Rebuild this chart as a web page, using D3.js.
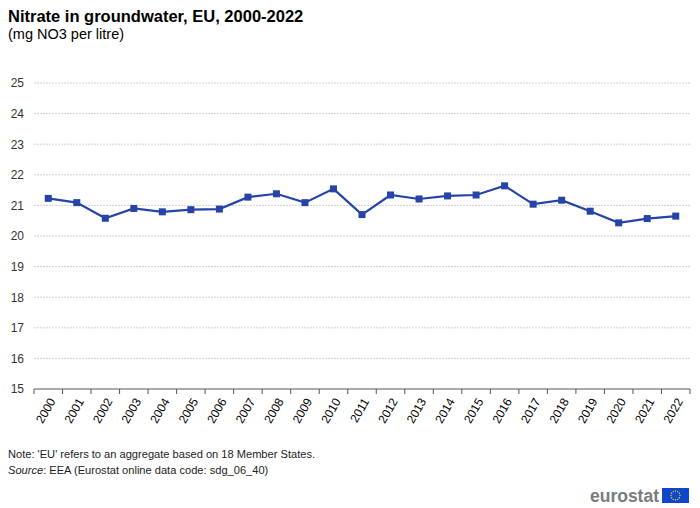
<!DOCTYPE html>
<html>
<head>
<meta charset="utf-8">
<script src="https://cdn.jsdelivr.net/npm/d3@7"></script>
<style>
  body { margin: 0; background: #fff; }
  svg { display: block; font-family: Arial, "Liberation Sans", sans-serif; }
</style>
</head>
<body>
<svg id="chart" width="700" height="508"></svg>
<script>
// Data
const years = ["2000", "2001", "2002", "2003", "2004", "2005", "2006", "2007", "2008", "2009", "2010", "2011",
    "2012", "2013", "2014", "2015", "2016", "2017", "2018", "2019", "2020", "2021", "2022"];
const nitrate = [21.23, 21.09, 20.58, 20.90, 20.79, 20.86, 20.88, 21.27, 21.38, 21.09, 21.54, 20.70,
    21.34, 21.21, 21.31, 21.34, 21.64, 21.04, 21.17, 20.81, 20.43, 20.57, 20.65];
const yTicks = [15, 16, 17, 18, 19, 20, 21, 22, 23, 24, 25];

const svg = d3.select("#chart");
const margin = { top: 83, right: 10, bottom: 119, left: 34 };
const width = 700 - margin.left - margin.right;
const height = 508 - margin.top - margin.bottom;

const g = svg.append("g")
    .attr("transform", `translate(${margin.left},${margin.top})`);

// Scales
const x = d3.scaleBand()
    .domain(years)
    .range([0, width]);

const y = d3.scaleLinear()
    .domain([15, 25])
    .range([height, 0]);

// Title and subtitle
svg.append("text")
    .attr("x", 8)
    .attr("y", 22)
    .attr("font-size", 16.5)
    .attr("font-weight", "bold")
    .attr("fill", "#000")
    .text("Nitrate in groundwater, EU, 2000-2022");

svg.append("text")
    .attr("x", 8)
    .attr("y", 39)
    .attr("font-size", 14.5)
    .attr("fill", "#000")
    .text("(mg NO3 per litre)");

// Horizontal grid lines
g.append("g")
    .attr("class", "grid")
    .selectAll("line")
    .data(yTicks.filter(d => d !== 15))
    .join("line")
    .attr("x1", 0)
    .attr("x2", width)
    .attr("y1", d => y(d))
    .attr("y2", d => y(d))
    .attr("stroke", "#d0d0d0")
    .attr("stroke-width", 1)
    .attr("stroke-dasharray", "2,1");

// Y axis (labels only)
const yAxis = g.append("g")
    .call(d3.axisLeft(y)
        .tickValues(yTicks)
        .tickSize(0)
        .tickPadding(10)
        .tickFormat(d3.format("d")));
yAxis.select(".domain").remove();
yAxis.selectAll("text")
    .attr("font-size", 12)
    .attr("font-family", "Arial, 'Liberation Sans', sans-serif")
    .attr("fill", "#333");

// X axis: ticks at category boundaries
const xAxisG = g.append("g")
    .attr("transform", `translate(0,${height})`);

xAxisG.append("line")
    .attr("x1", 0)
    .attr("x2", width)
    .attr("stroke", "#555")
    .attr("stroke-width", 1);

xAxisG.selectAll("line.tick")
    .data(years.concat(["end"]))
    .join("line")
    .attr("class", "tick")
    .attr("x1", (d, i) => i * x.step())
    .attr("x2", (d, i) => i * x.step())
    .attr("y1", 0)
    .attr("y2", 5)
    .attr("stroke", "#555");

xAxisG.selectAll("text")
    .data(years)
    .join("text")
    .attr("transform", d => `translate(${x(d) + x.bandwidth() / 2 + 4},${10}) rotate(-60)`)
    .attr("text-anchor", "end")
    .attr("dy", "0.35em")
    .attr("font-size", 12)
    .attr("fill", "#000")
    .text(d => d);

// Line
const line = d3.line()
    .x((d, i) => x(years[i]) + x.bandwidth() / 2)
    .y(d => y(d));

g.append("path")
    .datum(nitrate)
    .attr("fill", "none")
    .attr("stroke", "#2644a7")
    .attr("stroke-width", 2.2)
    .attr("d", line);

// Markers
g.selectAll("rect.marker")
    .data(nitrate)
    .join("rect")
    .attr("class", "marker")
    .attr("x", (d, i) => x(years[i]) + x.bandwidth() / 2 - 3.5)
    .attr("y", d => y(d) - 3.5)
    .attr("width", 7)
    .attr("height", 7)
    .attr("fill", "#2644a7");

// Footnotes
svg.append("text")
    .attr("x", 8)
    .attr("y", 458)
    .attr("font-size", 11.1)
    .attr("fill", "#222")
    .text("Note: 'EU' refers to an aggregate based on 18 Member States.");

const src = svg.append("text")
    .attr("x", 8)
    .attr("y", 474)
    .attr("font-size", 11.1)
    .attr("fill", "#222");
src.append("tspan").attr("font-style", "italic").text("Source");
src.append("tspan").text(": EEA (Eurostat online data code: sdg_06_40)");

// Eurostat logo
svg.append("text")
    .attr("x", 659)
    .attr("y", 502)
    .attr("text-anchor", "end")
    .attr("font-size", 17.5)
    .attr("font-weight", "bold")
    .attr("fill", "#7a7b80")
    .text("eurostat");

svg.append("rect")
    .attr("x", 662)
    .attr("y", 488)
    .attr("width", 27)
    .attr("height", 15)
    .attr("fill", "#0e47cb");

const stars = d3.range(12);
svg.selectAll("circle.star")
    .data(stars)
    .join("circle")
    .attr("class", "star")
    .attr("cx", d => 675.5 + 4.5 * Math.cos(d * Math.PI / 6))
    .attr("cy", d => 495.5 + 4.5 * Math.sin(d * Math.PI / 6))
    .attr("r", 0.7)
    .attr("fill", "#ffd617");
</script>
</body>
</html>
